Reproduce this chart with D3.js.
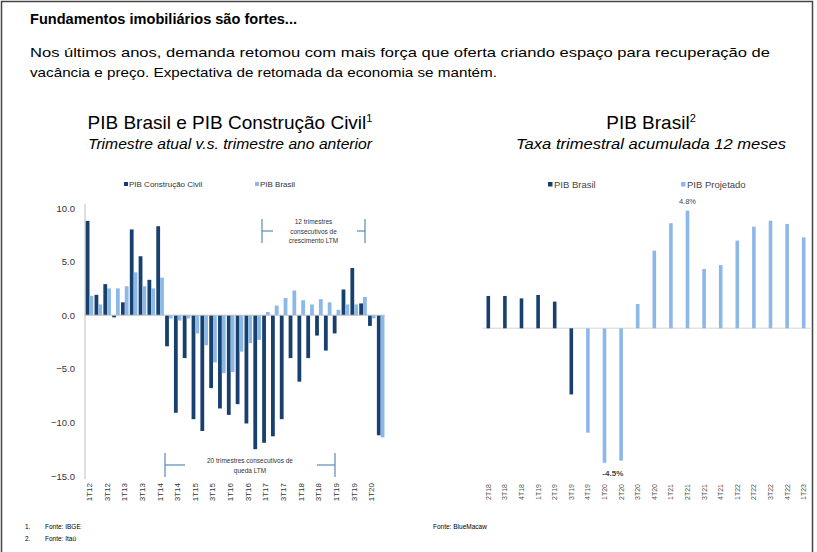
<!DOCTYPE html>
<html>
<head>
<meta charset="utf-8">
<title>Fundamentos imobiliários</title>
<script src="https://d3js.org/d3.v7.min.js"></script>
<style>
  body { margin: 0; background: #fff; font-family: "Liberation Sans", Arial, sans-serif; color: #222; }
  svg text { font-family: "Liberation Sans", Arial, sans-serif; }
</style>
</head>
<body>
<svg id="chart" width="817" height="552"></svg>
<script>
// ---- data: left chart (quarterly, yoy %) ----
var quarters = ["1T12","2T12","3T12","4T12","1T13","2T13","3T13","4T13",
  "1T14","2T14","3T14","4T14","1T15","2T15","3T15","4T15",
  "1T16","2T16","3T16","4T16","1T17","2T17","3T17","4T17",
  "1T18","2T18","3T18","4T18","1T19","2T19","3T19","4T19",
  "1T20","2T20"];
var pibConstrucao = [8.8, 1.9, 2.9, -0.2, 1.2, 8.0, 5.5, 3.3,
  8.3, -2.9, -9.1, -4.0, -9.7, -10.8, -6.8, -8.7,
  -9.3, -8.3, -10.1, -12.5, -11.9, -11.3, -9.7, -4.0,
  -6.2, -4.0, -1.9, -3.3, -1.7, 2.4, 4.4, 1.1,
  -1.0, -11.2];
var pibBrasil = [1.8, 1.0, 2.5, 2.5, 2.7, 4.0, 2.7, 2.5,
  3.5, -0.3, -0.5, -0.3, -1.7, -2.8, -4.4, -5.4,
  -5.3, -3.4, -2.6, -2.3, 0.3, 0.9, 1.6, 2.3,
  1.4, 1.0, 1.5, 1.2, 0.5, 1.0, 1.0, 1.7,
  -0.3, -11.4];
var leftTicks = [10, 5, 0, -5, -10, -15];

// ---- data: right chart (12m accumulated %) ----
var quartersR = ["2T18","3T18","4T18","1T19","2T19","3T19","4T19",
  "1T20","2T20","3T20","4T20","1T21","2T21","3T21","4T21",
  "1T22","2T22","3T22","4T22","1T23"];
var pibR = [1.32, 1.32, 1.22, 1.36, 1.09, -2.7, null,
  null, null, null, null, null, null, null, null,
  null, null, null, null, null];
var pibProjetado = [null, null, null, null, null, null, -4.26,
  -5.49, -5.4, 0.99, 3.17, 4.29, 4.8, 2.42, 2.58,
  3.58, 4.15, 4.39, 4.26, 3.71];
var rightNotes = ["4.8%", "-4.5%"];

var dark = "#17406d", light = "#8cb8e8", axisGray = "#bfbfbf";

var svg = d3.select("#chart");

// frame
svg.append("rect")
  .attr("x", 1.5).attr("y", 1.5)
  .attr("width", 811).attr("height", 560)
  .attr("fill", "none").attr("stroke", "#444").attr("stroke-width", 1.5);

// headings
svg.append("text").attr("x", 30).attr("y", 24)
  .attr("font-size", 15).attr("font-weight", "bold")
  .attr("textLength", 267).attr("lengthAdjust", "spacingAndGlyphs")
  .text("Fundamentos imobiliários são fortes...");
svg.append("text").attr("x", 30).attr("y", 57)
  .attr("font-size", 13.5)
  .attr("textLength", 740).attr("lengthAdjust", "spacingAndGlyphs")
  .text("Nos últimos anos, demanda retomou com mais força que oferta criando espaço para recuperação de");
svg.append("text").attr("x", 30).attr("y", 77)
  .attr("font-size", 13.5)
  .attr("textLength", 467).attr("lengthAdjust", "spacingAndGlyphs")
  .text("vacância e preço. Expectativa de retomada da economia se mantém.");

// chart titles
function chartTitle(cx, title, sup, sub, w2) {
  var t = svg.append("text").attr("x", cx).attr("y", 129)
    .attr("text-anchor", "middle").attr("font-size", 19);
  t.append("tspan").text(title);
  t.append("tspan").attr("dy", -7).attr("font-size", 11).text(sup);
  svg.append("text").attr("x", cx).attr("y", 149)
    .attr("text-anchor", "middle").attr("font-size", 14).attr("font-style", "italic")
    .attr("textLength", w2).attr("lengthAdjust", "spacingAndGlyphs")
    .text(sub);
}
chartTitle(230, "PIB Brasil e PIB Construção Civil", "1", "Trimestre atual v.s. trimestre ano anterior", 284);
chartTitle(651, "PIB Brasil", "2", "Taxa trimestral acumulada 12 meses", 270);

// ================= left chart =================
var x = d3.scaleBand().domain(quarters).range([84.5, 384.5]);
var y = d3.scaleLinear().domain([-15, 10]).range([476, 208]);
var bw = x.bandwidth() * 0.43;

var left = svg.append("g");

// y axis line + tick labels
left.append("line")
  .attr("x1", 85).attr("x2", 85).attr("y1", y(10) - 4).attr("y2", y(-15) + 3)
  .attr("stroke", axisGray);
left.selectAll(".ytick").data(leftTicks).enter().append("text")
  .attr("x", 75).attr("y", function(d) { return y(d) + 3.5; })
  .attr("text-anchor", "end").attr("font-size", 9.5).attr("fill", "#333")
  .text(function(d) { return d3.format(".1f")(d); });

left.selectAll(".barC").data(quarters).enter().append("rect")
  .attr("x", function(d) { return x(d) + 1.2; })
  .attr("width", bw)
  .attr("y", function(d, i) { return y(Math.max(0, pibConstrucao[i])); })
  .attr("height", function(d, i) { return Math.abs(y(pibConstrucao[i]) - y(0)); })
  .attr("fill", dark);
left.selectAll(".barB").data(quarters).enter().append("rect")
  .attr("x", function(d) { return x(d) + 1.2 + bw; })
  .attr("width", bw)
  .attr("y", function(d, i) { return y(Math.max(0, pibBrasil[i])); })
  .attr("height", function(d, i) { return Math.abs(y(pibBrasil[i]) - y(0)); })
  .attr("fill", light);

// zero line
left.append("line")
  .attr("x1", 85).attr("x2", 385).attr("y1", y(0)).attr("y2", y(0))
  .attr("stroke", axisGray);

// x labels, every other quarter
left.selectAll(".xl").data(quarters.filter(function(d, i) { return i % 2 === 0; }))
  .enter().append("text")
  .attr("transform", function(d) { return "translate(" + (x(d) + x.bandwidth() / 2 + 3) + ",483) rotate(-90)"; })
  .attr("text-anchor", "end").attr("font-size", 8).attr("fill", "#333")
  .text(function(d) { return d; });

// legend
var legL = [{t: "PIB Construção Civil", c: dark, x: 124}, {t: "PIB Brasil", c: light, x: 255}];
left.selectAll(".lg").data(legL).enter().append("rect")
  .attr("x", function(d) { return d.x; }).attr("y", 182)
  .attr("width", 4).attr("height", 4).attr("fill", function(d) { return d.c; });
left.selectAll(".lgt").data(legL).enter().append("text")
  .attr("x", function(d) { return d.x + 5; }).attr("y", 187)
  .attr("font-size", 8).attr("fill", "#333")
  .text(function(d) { return d.t; });

// brackets
function bracket(x1, x2, yc, h, gapL, gapR, lines, ty) {
  var g = left.append("g").attr("stroke", "#5a8ab8").attr("stroke-width", 1.2);
  g.append("line").attr("x1", x1).attr("x2", x1).attr("y1", yc - h).attr("y2", yc + h);
  g.append("line").attr("x1", x2).attr("x2", x2).attr("y1", yc - h).attr("y2", yc + h);
  g.append("line").attr("x1", x1).attr("x2", gapL).attr("y1", yc).attr("y2", yc);
  g.append("line").attr("x1", gapR).attr("x2", x2).attr("y1", yc).attr("y2", yc);
  left.selectAll(null).data(lines).enter().append("text")
    .attr("x", (x1 + x2) / 2).attr("y", function(d, i) { return ty + i * 9.5; })
    .attr("text-anchor", "middle").attr("font-size", 6.5).attr("fill", "#333")
    .text(function(d) { return d; });
}
bracket(262, 365, 231, 12, 273, 357, ["12 trimestres", "consecutivos de", "crescimento LTM"], 224);
bracket(165, 335, 465, 12, 185, 317, ["20 trimestres consecutivos de", "queda LTM"], 463);

// ================= right chart =================
var xr = d3.scaleBand().domain(quartersR).range([480, 812]);
var yr = d3.scaleLinear().domain([-6, 5]).range([475.3, 205.8]);
var right = svg.append("g");
var rbw = 3.6;

function rbars(vals, color) {
  right.selectAll(null).data(quartersR).enter()
    .filter(function(d, i) { return vals[i] !== null; })
    .append("rect")
    .attr("x", function(d) { return xr(d) + xr.bandwidth() / 2 - rbw / 2; })
    .attr("width", rbw)
    .attr("y", function(d) { var v = vals[quartersR.indexOf(d)]; return yr(Math.max(0, v)); })
    .attr("height", function(d) { var v = vals[quartersR.indexOf(d)]; return Math.abs(yr(v) - yr(0)); })
    .attr("fill", color);
}
right.append("line")
  .attr("x1", 483).attr("x2", 812).attr("y1", yr(0)).attr("y2", yr(0))
  .attr("stroke", "#e3e3e3").attr("stroke-width", 1.5);
rbars(pibR, dark);
rbars(pibProjetado, light);

right.selectAll(".xr").data(quartersR).enter().append("text")
  .attr("transform", function(d) { return "translate(" + (xr(d) + xr.bandwidth() / 2 + 2.5) + ",484) rotate(-90)"; })
  .attr("text-anchor", "end").attr("font-size", 7).attr("fill", "#555")
  .text(function(d) { return d; });

// value notes
right.append("text")
  .attr("x", xr("2T21") + xr.bandwidth() / 2).attr("y", yr(4.8) - 7)
  .attr("text-anchor", "middle").attr("font-size", 7.5).attr("fill", "#444")
  .text(rightNotes[0]);
right.append("text")
  .attr("x", (xr("1T20") + xr("2T20")) / 2 + xr.bandwidth() / 2).attr("y", yr(-5.49) + 13)
  .attr("text-anchor", "middle").attr("font-size", 8).attr("font-weight", "bold").attr("fill", "#444")
  .text(rightNotes[1]);

// legend
var legR = [{t: "PIB Brasil", c: dark, x: 548}, {t: "PIB Projetado", c: light, x: 681}];
right.selectAll(".lg").data(legR).enter().append("rect")
  .attr("x", function(d) { return d.x; }).attr("y", 182)
  .attr("width", 4.5).attr("height", 4.5).attr("fill", function(d) { return d.c; });
right.selectAll(".lgt").data(legR).enter().append("text")
  .attr("x", function(d) { return d.x + 6; }).attr("y", 188)
  .attr("font-size", 9.5).attr("fill", "#444")
  .text(function(d) { return d.t; });

// footnotes
var notes = [["1.", "Fonte: IBGE", 529], ["2.", "Fonte: Itaú", 541]];
svg.selectAll(".fn").data(notes).enter().append("text")
  .attr("x", 25).attr("y", function(d) { return d[2]; })
  .attr("font-size", 6.5).text(function(d) { return d[0]; });
svg.selectAll(".fn2").data(notes).enter().append("text")
  .attr("x", 45).attr("y", function(d) { return d[2]; })
  .attr("font-size", 6.5).text(function(d) { return d[1]; });
svg.append("text").attr("x", 433).attr("y", 529).attr("font-size", 6.5).text("Fonte: BlueMacaw");
</script>
</body>
</html>
